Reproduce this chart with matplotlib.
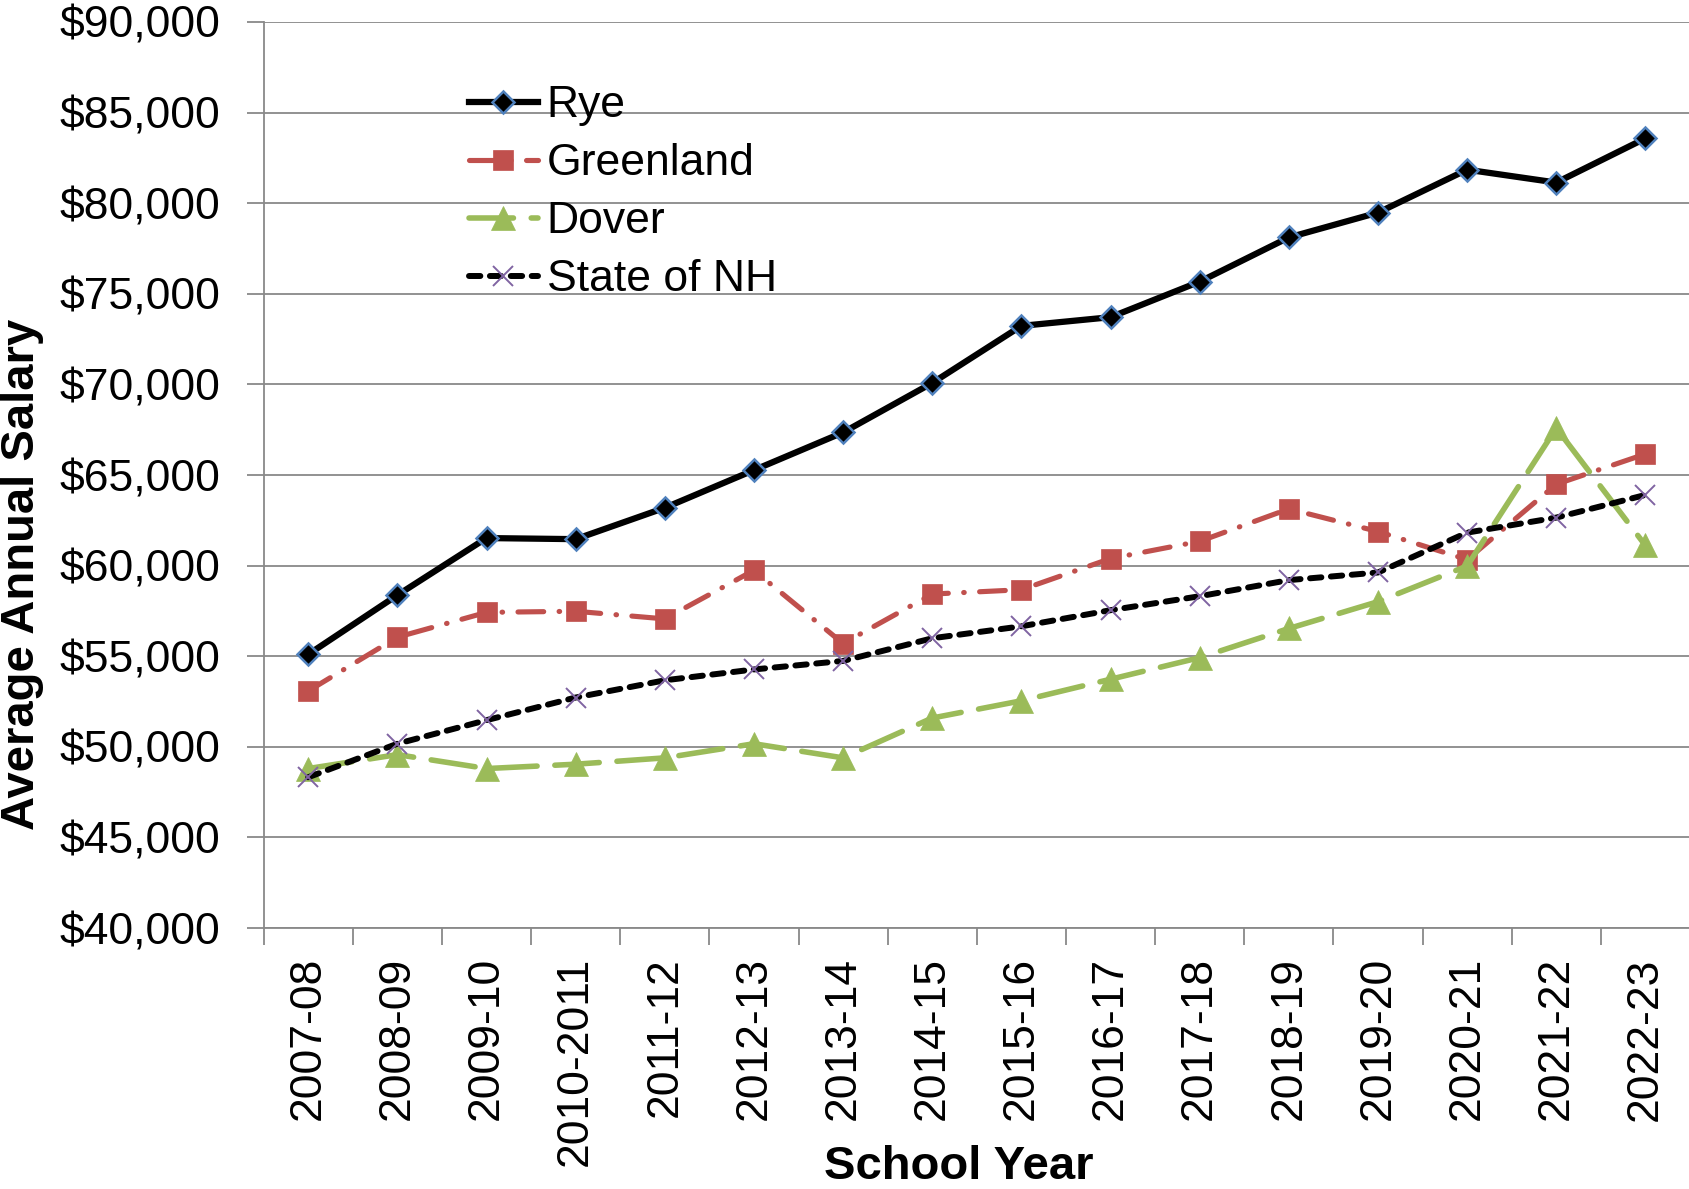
import matplotlib
matplotlib.use("Agg")
import matplotlib.pyplot as plt
import numpy as np
from matplotlib.ticker import FuncFormatter, FixedLocator

plt.rcParams['font.family'] = ['Liberation Sans', 'DejaVu Sans']

# school years on the x axis
years = ['2007-08', '2008-09', '2009-10', '2010-2011', '2011-12', '2012-13',
         '2013-14', '2014-15', '2015-16', '2016-17', '2017-18', '2018-19',
         '2019-20', '2020-21', '2021-22', '2022-23']

# average annual salary
rye = [55100, 58370, 61520, 61460, 63190, 65270, 67350, 70080,
       73230, 73710, 75670, 78110, 79480, 81850, 81140, 83580]
greenland = [53080, 56050, 57420, 57480, 57060, 59740, 55700, 58430,
             58670, 60390, 61340, 63130, 61880, 60330, 64490, 66160]
dover = [48800, 49570, 48800, 49040, 49390, 50170, 49390, 51590,
         52540, 53730, 54920, 56530, 58010, 59980, 67590, 61110]
state_nh = [48320, 50170, 51470, 52720, 53670, 54270, 54740, 55990,
            56650, 57540, 58310, 59200, 59620, 61820, 62650, 63900]

grid_col = '#898989'

fig = plt.figure(figsize=(16.9, 11.89), dpi=100)
ax = fig.add_axes([0.156, 0.2195, 0.844, 0.762])

x = np.arange(len(years))

ax.plot(x, rye, color='black', lw=4.5, marker='D', ms=11,
        mfc='black', mec='#4F81BD', mew=1.8, label='Rye', zorder=3)
ax.plot(x, greenland, color='#C0504D', lw=3.7, marker='s', ms=14.5,
        mfc='#C0504D', mec='#C0504D', mew=0.5, dashes=(5, 3.0, 0.1, 3.0),
        dash_capstyle='round', label='Greenland', zorder=4)
ax.plot(x, dover, color='#9BBB59', lw=4.0, marker='^', ms=17,
        mfc='#9BBB59', mec='#9BBB59', mew=0.5, dashes=(8.0, 3.2),
        dash_capstyle='round', label='Dover', zorder=5)
ax.plot(x, state_nh, color='black', lw=4.3, marker='x', ms=14,
        mec='#8064A2', mew=1.4, dashes=(1.9, 1.6),
        dash_capstyle='round', label='State of NH', zorder=6)

ax.set_xlim(-0.5, len(years) - 0.5)
ax.set_ylim(40000, 90000)
ax.set_yticks(np.arange(40000, 90001, 5000))
ax.yaxis.set_major_formatter(FuncFormatter(lambda v, p: '${:,.0f}'.format(v)))
ax.tick_params(axis='y', labelsize=32, length=12, width=1.3, color=grid_col, pad=19)

ax.set_xticks(x)
ax.set_xticklabels(years, rotation=90, va='top', ha='center')
ax.xaxis.set_minor_locator(FixedLocator(np.arange(-0.5, len(years), 1.0)))
ax.tick_params(axis='x', which='major', labelsize=32, length=0, pad=21)
ax.tick_params(axis='x', which='minor', length=12, width=1.3, color=grid_col)

ax.grid(axis='y', color=grid_col, lw=1.3)
ax.set_axisbelow(True)
for s in ['top', 'right']:
    ax.spines[s].set_visible(False)
for s in ['left', 'bottom']:
    ax.spines[s].set_color(grid_col)
    ax.spines[s].set_linewidth(1.3)

ax.set_ylabel('Average Annual Salary', fontsize=34, fontweight='bold')
ax.yaxis.set_label_coords(-0.154, 0.39)
ax.set_xlabel('School Year', fontsize=34, fontweight='bold')
ax.xaxis.set_label_coords(0.487, -0.24)

ax.legend(loc='upper left', bbox_to_anchor=(0.144, 0.93), frameon=False,
          fontsize=32, handlelength=1.55, handletextpad=0.2,
          labelspacing=0.38, borderpad=0, borderaxespad=0)

fig.savefig('out.png', dpi=100)
